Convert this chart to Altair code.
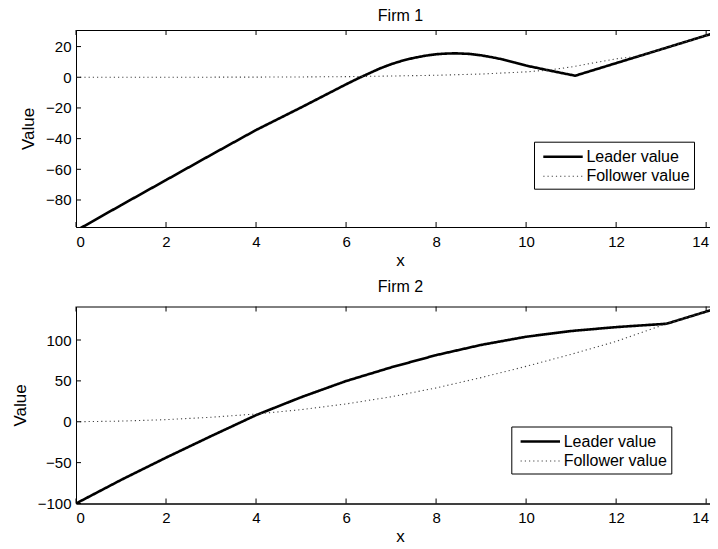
import altair as alt
import pandas as pd

FONT = "Liberation Sans"
series_names = ["Leader value", "Follower value"]
x_ticks = [0, 2, 4, 6, 8, 10, 12, 14]

# Firm 1
f1_leader_x = [0, 1, 2, 3, 4, 5, 6, 6.25, 6.5, 6.75, 7.0, 7.25, 7.5, 7.75, 8.0, 8.2, 8.44, 8.75, 9.0, 9.25, 9.5, 9.75, 10.0, 10.5, 11.09, 12.0, 13.0, 14.25]
f1_leader_y = [-100, -83.4, -67.0, -50.6, -34.4, -19.7, -4.6, -1.0, 2.4, 5.7, 8.5, 10.8, 12.6, 14.0, 15.0, 15.4, 15.6, 15.2, 14.3, 13.0, 11.5, 9.6, 7.6, 4.5, 1.0, 9.2, 18.2, 29.5]
f1_follower_x = [0, 2, 4, 5, 6, 7, 8, 9, 10, 10.5, 11, 11.5, 12, 12.5, 13, 14.25]
f1_follower_y = [0, 0, 0.1, 0.2, 0.4, 0.8, 1.3, 2.1, 3.5, 4.7, 6.7, 9.4, 12.0, 13.7, 18.2, 29.5]
f1_y_ticks = [-80, -60, -40, -20, 0, 20]
f1_y_domain = [-97.6, 30.8]

# Firm 2
f2_leader_x = [0, 1, 2, 3, 4, 5, 6, 7, 8, 9, 10, 11, 12, 13.12, 14.25]
f2_leader_y = [-100, -71.2, -43.9, -17.6, 8.1, 30.0, 49.8, 66.5, 81.5, 94, 104, 111, 115.8, 119.9, 139]
f2_follower_x = [0, 1, 2, 3, 4, 5, 6, 7, 8, 9, 10, 11, 12, 13.12, 14.25]
f2_follower_y = [0, 0.8, 2.6, 5.5, 9.5, 14.8, 21.8, 30.5, 41.4, 54, 67.8, 82.5, 98.3, 119.9, 139]
f2_y_ticks = [-100, -50, 0, 50, 100]
f2_y_domain = [-100, 141]

X_DOMAIN = [0, 14.33]
W, H = 645, 197


def panel(title, lx, ly, fx, fy, ydom, yticks, ytitle_x, xtitle_y, leg_x, leg_y, title_off):
    df = pd.concat([
        pd.DataFrame({"x": lx, "v": ly, "s": series_names[0]}),
        pd.DataFrame({"x": fx, "v": fy, "s": series_names[1]}),
    ])
    xs = alt.Scale(domain=X_DOMAIN, nice=False, zero=False)
    ys = alt.Scale(domain=ydom, nice=False, zero=False)
    xaxis = alt.Axis(
        values=x_ticks, title="x", titleX=324, titleY=xtitle_y,
        titleBaseline="alphabetic", titleAngle=0, labelOverlap=False,
        labelOffset={"condition": {"test": "datum.value >= 14", "value": -6}, "value": 0},
    )
    yaxis = alt.Axis(
        values=yticks, title="Value", titleX=ytitle_x, titleY=H / 2,
        titleBaseline="alphabetic", titleAngle=-90, titleAlign="center",
        labelOverlap=False, labelSeparation=0,
    )
    leg = alt.Legend(
        orient="none", legendX=leg_x, legendY=leg_y, title=None,
        strokeColor="black", fillColor="white", padding=4,
        symbolType="M-0.6,0H3.55", symbolSize=361,
        labelOffset=26.4, labelFontSize=16, labelFont=FONT, labelColor="black",
        rowPadding=1,
    )
    lines = alt.Chart(df).mark_line(clip=True).encode(
        x=alt.X("x:Q", scale=xs, axis=xaxis),
        y=alt.Y("v:Q", scale=ys, axis=yaxis),
        color=alt.Color("s:N", scale=alt.Scale(domain=series_names, range=["#000000", "#444444"]), legend=leg),
        strokeDash=alt.StrokeDash("s:N", scale=alt.Scale(domain=series_names, range=[[1, 0], [1.2, 3]]), legend=leg),
        strokeWidth=alt.StrokeWidth("s:N", scale=alt.Scale(domain=series_names, range=[2.6, 1.1]), legend=leg),
    )
    xt = pd.DataFrame({"x": x_ticks})
    yt = pd.DataFrame({"v": yticks})
    bt = alt.Chart(xt).mark_rule(color="black", strokeWidth=1).encode(
        x=alt.X("x:Q", scale=xs, axis=xaxis), y=alt.value(H), y2=alt.value(H - 5))
    tt = alt.Chart(xt).mark_rule(color="black", strokeWidth=1).encode(
        x=alt.X("x:Q", scale=xs, axis=xaxis), y=alt.value(0), y2=alt.value(5))
    lt = alt.Chart(yt).mark_rule(color="black", strokeWidth=1).encode(
        y=alt.Y("v:Q", scale=ys, axis=yaxis), x=alt.value(0), x2=alt.value(5))
    return alt.layer(lines, bt, tt, lt).properties(
        width=W, height=H,
        title=alt.TitleParams(title, fontSize=16, font=FONT, fontWeight="normal",
                              color="black", offset=title_off, dx=2,
                              anchor="middle"),
    )


p1 = panel("Firm 1", f1_leader_x, f1_leader_y, f1_follower_x, f1_follower_y,
           f1_y_domain, f1_y_ticks, -43, 38.5, 458, 111.7, 6)
p2 = panel("Firm 2", f2_leader_x, f2_leader_y, f2_follower_x, f2_follower_y,
           f2_y_domain, f2_y_ticks, -51, 37.8, 435.3, 120, 11)

chart = alt.vconcat(p1, p2, spacing=9.5).resolve_legend(
    color="independent", strokeDash="independent", strokeWidth="independent"
).properties(
    padding={"left": 2, "top": -1, "right": -12, "bottom": 0},
    background="white",
).configure_axis(
    labelFont=FONT, labelFontSize=15, labelColor="black",
    titleFont=FONT, titleFontSize=17, titleColor="black", titleFontWeight="normal",
    ticks=False, tickSize=0, grid=False, domainColor="black", domainWidth=1,
    labelPadding=5, labelOverlap=False,
).configure_axisX(labelPadding=7).configure_view(
    stroke="black", strokeWidth=1
)

chart.save("out.html", embed_options={"renderer": "svg", "actions": False})
